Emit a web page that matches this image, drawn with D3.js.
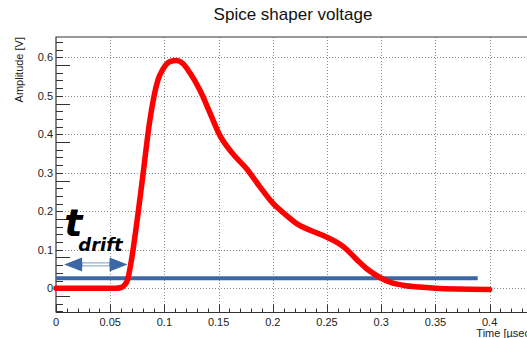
<!DOCTYPE html>
<html>
<head>
<meta charset="utf-8">
<script src="https://cdn.jsdelivr.net/npm/d3@7"></script>
<style>
	body { margin: 0; background: #fff; }
	svg { display: block; font-family: "Liberation Sans", Arial, sans-serif; }
	.tick-label { font-size: 11px; fill: #222; }
	.grid { stroke: #8a8a8a; stroke-width: 1; stroke-dasharray: 1,2; }
</style>
</head>
<body>
<div id="chart"></div>
<script>
// shaper output
var timeUs = [0, 0.02, 0.04, 0.055, 0.06, 0.063, 0.066, 0.07, 0.075, 0.08, 0.0866, 0.094, 0.099,
	0.105, 0.111, 0.117, 0.1235, 0.1327, 0.142, 0.151, 0.163, 0.176, 0.188, 0.2, 0.211, 0.222,
	0.235, 0.249, 0.258, 0.265, 0.272, 0.279, 0.286, 0.293, 0.3, 0.31, 0.32, 0.335, 0.35, 0.37, 0.4];
var amplitude = [0, 0, 0, 0, 0.002, 0.008, 0.022, 0.08, 0.18, 0.29, 0.437, 0.541, 0.571,
	0.589, 0.592, 0.584, 0.56, 0.515, 0.456, 0.398, 0.35, 0.31, 0.264, 0.221, 0.193, 0.168,
	0.15, 0.134, 0.121, 0.108, 0.09, 0.07, 0.052, 0.038, 0.026, 0.014, 0.008, 0.003, 0, -0.002, -0.003];

// threshold line and t_drift arrow
var thresholdLevel = 0.026;
var thresholdSpan = [0, 0.389];
var driftArrowSpan = [0.0075, 0.066];
var driftArrowLevel = 0.062;
var driftLabelPos = [0.0075, 0.136];

var xMajorTicks = [0, 0.05, 0.1, 0.15, 0.2, 0.25, 0.3, 0.35, 0.4];
var xTickLabels = ["0", "0.05", "0.1", "0.15", "0.2", "0.25", "0.3", "0.35", "0.4"];
var yMajorTicks = [0, 0.1, 0.2, 0.3, 0.4, 0.5, 0.6];
var yTickLabels = ["0", "0.1", "0.2", "0.3", "0.4", "0.5", "0.6"];

var width = 527, height = 338;
var frame = { left: 56, top: 37, right: 533, bottom: 312.5 };
var red = "#ff0000", blue = "#3b67a6";

var svg = d3.select("#chart").append("svg")
	.attr("width", width)
	.attr("height", height);

var xScale = d3.scaleLinear().domain([0, 0.44]).range([frame.left, frame.right]);
var yScale = d3.scaleLinear().domain([-0.063, 0.653]).range([frame.bottom, frame.top]);

// minor ticks every 0.01 / 0.02
var xMinor = d3.range(0, 45).map(function (i) { return i / 100; });
var yMinor = d3.range(-3, 33).map(function (i) { return i / 50; });

// grid
svg.append("g").selectAll("line.gx")
	.data(xMajorTicks.slice(1)).enter()
	.append("line")
	.attr("class", "grid")
	.attr("x1", function (d) { return Math.round(xScale(d)) + 0.5; })
	.attr("x2", function (d) { return Math.round(xScale(d)) + 0.5; })
	.attr("y1", frame.top)
	.attr("y2", frame.bottom);
svg.append("g").selectAll("line.gy")
	.data(yMajorTicks).enter()
	.append("line")
	.attr("class", "grid")
	.attr("y1", function (d) { return Math.round(yScale(d)) + 0.5; })
	.attr("y2", function (d) { return Math.round(yScale(d)) + 0.5; })
	.attr("x1", frame.left)
	.attr("x2", width);

// frame
svg.append("path")
	.attr("d", "M" + frame.left + "," + frame.bottom + "V" + frame.top + "H" + width)
	.attr("fill", "none").attr("stroke", "#333").attr("stroke-width", 1.2);
svg.append("line")
	.attr("x1", frame.left).attr("x2", width)
	.attr("y1", frame.bottom).attr("y2", frame.bottom)
	.attr("stroke", "#333").attr("stroke-width", 1.2);

// x ticks
var xTicks = svg.append("g").attr("stroke", "#333").attr("stroke-width", 1);
xTicks.selectAll("line")
	.data(xMinor).enter()
	.append("line")
	.attr("x1", function (d) { return Math.round(xScale(d)) + 0.5; })
	.attr("x2", function (d) { return Math.round(xScale(d)) + 0.5; })
	.attr("y1", frame.bottom)
	.attr("y2", function (d, i) { return frame.bottom - (i % 5 === 0 ? 8 : 4); });
svg.append("g").selectAll("text")
	.data(xMajorTicks).enter()
	.append("text")
	.attr("class", "tick-label")
	.attr("x", function (d) { return xScale(d); })
	.attr("y", 326)
	.attr("text-anchor", "middle")
	.text(function (d, i) { return xTickLabels[i]; });

// y ticks
var yTicks = svg.append("g").attr("stroke", "#333").attr("stroke-width", 1);
yTicks.selectAll("line")
	.data(yMinor).enter()
	.append("line")
	.attr("y1", function (d) { return Math.round(yScale(d)) + 0.5; })
	.attr("y2", function (d) { return Math.round(yScale(d)) + 0.5; })
	.attr("x1", frame.left)
	.attr("x2", function (d, i) { return frame.left + ((i + 3) % 5 === 0 ? 14 : 7); });
svg.append("g").selectAll("text")
	.data(yMajorTicks).enter()
	.append("text")
	.attr("class", "tick-label")
	.attr("x", 53)
	.attr("y", function (d) { return yScale(d) + 4; })
	.attr("text-anchor", "end")
	.text(function (d, i) { return yTickLabels[i]; });

// titles
svg.append("text")
	.attr("x", 293).attr("y", 20)
	.attr("text-anchor", "middle")
	.attr("font-size", 17).attr("fill", "#111")
	.text("Spice shaper voltage");
svg.append("text")
	.attr("transform", "translate(23," + frame.top + ") rotate(-90)")
	.attr("text-anchor", "end")
	.attr("font-size", 11).attr("fill", "#222")
	.text("Amplitude [V]");
// cut at the right edge, as in the original
svg.append("text")
	.attr("x", frame.right).attr("y", 337)
	.attr("text-anchor", "end")
	.attr("font-size", 11).attr("fill", "#222")
	.text("Time [\u00b5sec]");

// threshold line
svg.append("line")
	.attr("x1", xScale(thresholdSpan[0])).attr("x2", xScale(thresholdSpan[1]))
	.attr("y1", yScale(thresholdLevel)).attr("y2", yScale(thresholdLevel))
	.attr("stroke", blue).attr("stroke-width", 4);

// signal
var line = d3.line()
	.x(function (d) { return xScale(d[0]); })
	.y(function (d) { return yScale(d[1]); })
	.curve(d3.curveMonotoneX);
svg.append("path")
	.datum(d3.zip(timeUs, amplitude))
	.attr("d", line)
	.attr("fill", "none")
	.attr("stroke", red)
	.attr("stroke-width", 5.5)
	.attr("stroke-linecap", "round")
	.attr("stroke-linejoin", "round");

// t_drift arrow
var ax0 = xScale(driftArrowSpan[0]), ax1 = xScale(driftArrowSpan[1]);
var ay = yScale(driftArrowLevel);
var headLen = 18, headHalf = 7;
svg.append("rect")
	.attr("x", ax0 + headLen).attr("y", ay - 1.5)
	.attr("width", ax1 - ax0 - 2 * headLen).attr("height", 3)
	.attr("fill", "#fff").attr("stroke", "#7d9cc8").attr("stroke-width", 1);
svg.append("path")
	.attr("d", "M" + ax0 + "," + ay + "L" + (ax0 + headLen) + "," + (ay - headHalf) +
		"V" + (ay + headHalf) + "Z")
	.attr("fill", blue);
svg.append("path")
	.attr("d", "M" + ax1 + "," + ay + "L" + (ax1 - headLen) + "," + (ay - headHalf) +
		"V" + (ay + headHalf) + "Z")
	.attr("fill", blue);

var label = svg.append("text")
	.attr("x", xScale(driftLabelPos[0]))
	.attr("y", yScale(driftLabelPos[1]))
	.attr("font-family", "'DejaVu Sans', sans-serif")
	.attr("font-weight", "bold").attr("font-style", "italic")
	.attr("fill", "#000");
label.append("tspan").attr("font-size", 38).text("t");
label.append("tspan").attr("font-size", 18).attr("dx", -4).attr("dy", 15).text("drift");
</script>
</body>
</html>
